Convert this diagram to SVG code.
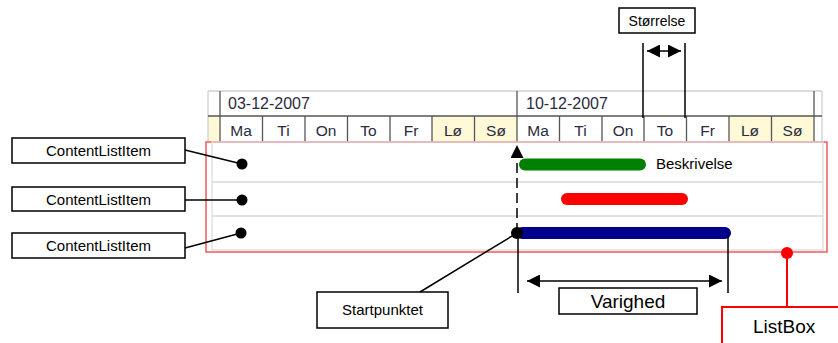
<svg xmlns="http://www.w3.org/2000/svg" width="838" height="343" viewBox="0 0 838 343">
<style>
text{font-family:"Liberation Sans",Arial,sans-serif;}
.lbl{font-size:15px;fill:#000;text-anchor:middle;}
.box{fill:#fff;stroke:#000;stroke-width:1.5;}
.day{font-size:15.5px;fill:#2a2a40;text-anchor:middle;}
.date{font-size:16px;fill:#2a2a40;}
.dk{stroke:#555;stroke-width:1.3;}
.lt{stroke:#d0d0d0;stroke-width:1.3;}
.ln{stroke:#000;stroke-width:1.5;fill:none;}
.we{fill:#fff9d8;}
</style>
<defs>
<marker id="ahL" viewBox="0 0 10 10" refX="10" refY="5" markerWidth="13" markerHeight="13" markerUnits="userSpaceOnUse" orient="auto-start-reverse">
<path d="M0,0 L10,5 L0,10 z" fill="#000"/>
</marker>
</defs>

<g id="header">
<rect x="208" y="91" width="614" height="51" fill="#fff"/>
<rect x="208" y="116" width="12" height="26" class="we"/>
<rect x="432" y="116" width="85" height="26" class="we"/>
<rect x="729" y="116" width="85" height="26" class="we"/>
<line x1="208" y1="91" x2="822" y2="91" class="lt"/>
<line x1="208" y1="91" x2="208" y2="142" class="lt"/>
<line x1="822" y1="91" x2="822" y2="142" class="lt"/>
<line x1="208" y1="116" x2="822" y2="116" class="dk"/>
<line x1="220" y1="91" x2="220" y2="142" class="dk"/>
<line x1="517" y1="91" x2="517" y2="142" class="dk"/>
<line x1="814" y1="91" x2="814" y2="142" class="dk"/>
<g class="dk">
<line x1="262.5" y1="116" x2="262.5" y2="142"/>
<line x1="305" y1="116" x2="305" y2="142"/>
<line x1="347.5" y1="116" x2="347.5" y2="142"/>
<line x1="390" y1="116" x2="390" y2="142"/>
<line x1="432" y1="116" x2="432" y2="142"/>
<line x1="474.5" y1="116" x2="474.5" y2="142"/>
<line x1="559.5" y1="116" x2="559.5" y2="142"/>
<line x1="602" y1="116" x2="602" y2="142"/>
<line x1="644" y1="116" x2="644" y2="142"/>
<line x1="686.5" y1="116" x2="686.5" y2="142"/>
<line x1="729" y1="116" x2="729" y2="142"/>
<line x1="771.5" y1="116" x2="771.5" y2="142"/>
</g>
<text x="228" y="109" class="date">03-12-2007</text>
<text x="526" y="109" class="date">10-12-2007</text>
<text x="241" y="136" class="day">Ma</text>
<text x="283.5" y="136" class="day">Ti</text>
<text x="326" y="136" class="day">On</text>
<text x="368.5" y="136" class="day">To</text>
<text x="411" y="136" class="day">Fr</text>
<text x="453" y="136" class="day">Lø</text>
<text x="496" y="136" class="day">Sø</text>
<text x="538" y="136" class="day">Ma</text>
<text x="580.5" y="136" class="day">Ti</text>
<text x="623" y="136" class="day">On</text>
<text x="665" y="136" class="day">To</text>
<text x="707.5" y="136" class="day">Fr</text>
<text x="750" y="136" class="day">Lø</text>
<text x="792.5" y="136" class="day">Sø</text>
</g>

<g id="listbox-area">
<rect x="206" y="142" width="621" height="110" fill="#fff" stroke="#f05a5a" stroke-width="1.5"/>
<rect x="212" y="142" width="611" height="108" fill="none" stroke="#dcdcdc" stroke-width="1.3"/>
<line x1="212" y1="182" x2="823" y2="182" stroke="#d8d8d8" stroke-width="1.3"/>
<line x1="212" y1="216" x2="823" y2="216" stroke="#d8d8d8" stroke-width="1.3"/>
</g>

<g id="bars">
<line x1="525" y1="164.5" x2="640" y2="164.5" stroke="#008000" stroke-width="12" stroke-linecap="round"/>
<line x1="567" y1="199" x2="682" y2="199" stroke="#ff0000" stroke-width="12" stroke-linecap="round"/>
<line x1="522" y1="233" x2="725" y2="233" stroke="#00008b" stroke-width="12" stroke-linecap="round"/>
<text x="656" y="169" style="font-size:15px;fill:#000">Beskrivelse</text>
</g>

<g id="item1">
<rect x="12" y="138" width="173" height="25" class="box"/>
<text x="98.5" y="156" class="lbl">ContentListItem</text>
</g>
<g id="item2">
<rect x="12" y="187" width="173" height="24" class="box"/>
<text x="98.5" y="204.5" class="lbl">ContentListItem</text>
</g>
<g id="item3">
<rect x="12" y="233" width="173" height="25" class="box"/>
<text x="98.5" y="251" class="lbl">ContentListItem</text>
</g>
<g id="startpunktet">
<rect x="317" y="292" width="131" height="36" class="box"/>
<text x="382.5" y="315" class="lbl">Startpunktet</text>
</g>
<g id="varighed">
<rect x="559" y="288" width="138" height="26" class="box"/>
<text x="628" y="308" class="lbl" style="font-size:19px">Varighed</text>
</g>
<g id="storrelse">
<rect x="619" y="8" width="76" height="25" class="box"/>
<text x="657" y="26" class="lbl" style="font-size:14px">Størrelse</text>
</g>
<g id="listbox">
<rect x="722" y="307" width="130" height="50" fill="#fff" stroke="#ff0000" stroke-width="2"/>
<text x="753" y="333" style="font-size:19px;fill:#000">ListBox</text>
</g>

<g id="connectors">
<line x1="185" y1="150" x2="242" y2="164" class="ln"/>
<line x1="185" y1="200" x2="242" y2="200" class="ln"/>
<line x1="185" y1="248" x2="241" y2="233" class="ln"/>
<circle cx="242" cy="164" r="5.5" fill="#000"/>
<circle cx="242" cy="200" r="5.5" fill="#000"/>
<circle cx="241" cy="233" r="5.5" fill="#000"/>
<line x1="517" y1="233" x2="517" y2="145" class="ln" stroke-dasharray="10,5" marker-end="url(#ahL)"/>
<line x1="420" y1="292" x2="517" y2="233" class="ln"/>
<circle cx="517" cy="233" r="6" fill="#000"/>
<line x1="518" y1="238" x2="518" y2="293" class="ln"/>
<line x1="728" y1="236" x2="728" y2="293" class="ln"/>
<line x1="527" y1="281" x2="722" y2="281" class="ln" stroke-width="1.2" marker-start="url(#ahL)" marker-end="url(#ahL)"/>
<line x1="643" y1="43" x2="643" y2="118" class="ln"/>
<line x1="685" y1="43" x2="685" y2="118" class="ln"/>
<line x1="647" y1="51" x2="681" y2="51" class="ln" marker-start="url(#ahL)" marker-end="url(#ahL)"/>
<line x1="787" y1="253" x2="787" y2="307" stroke="#ff0000" stroke-width="2"/>
<circle cx="787" cy="253" r="6" fill="#ff0000"/>
</g>
</svg>
